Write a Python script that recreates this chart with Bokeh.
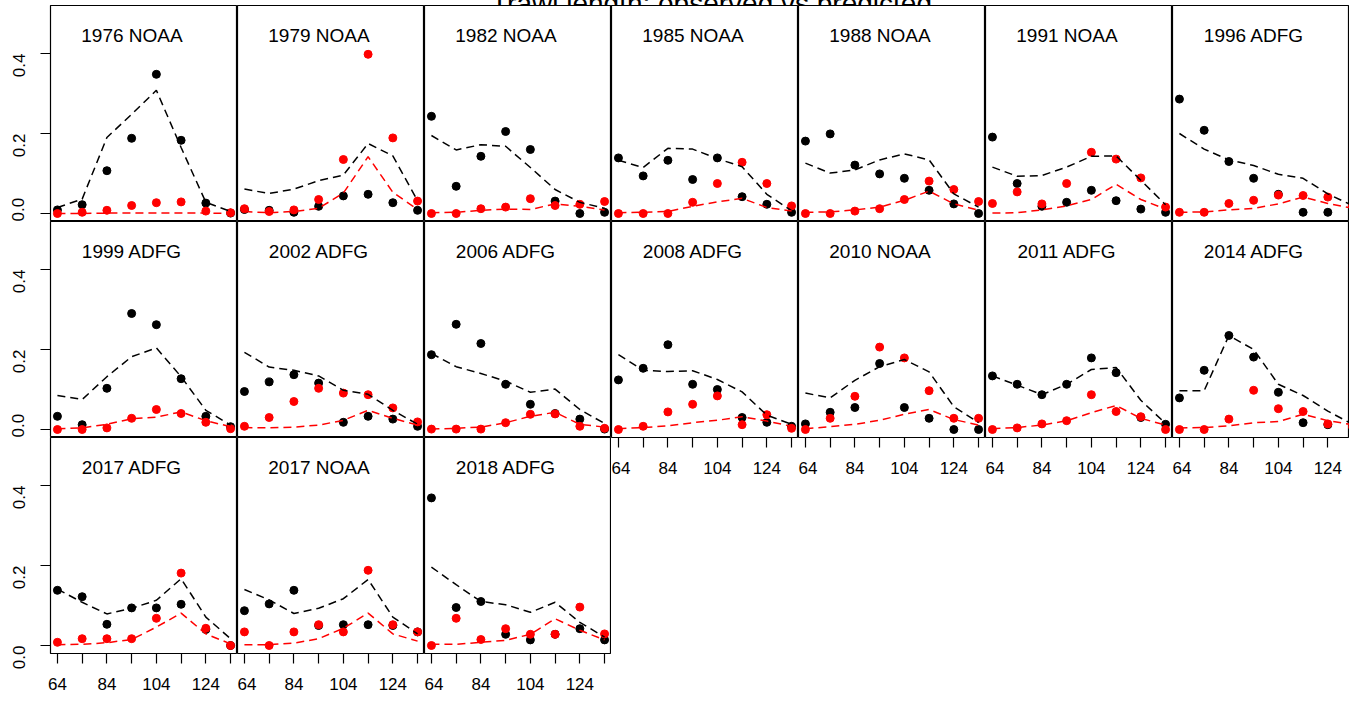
import math
from bokeh.plotting import figure
from bokeh.layouts import row, column
from bokeh.models import Range1d, FixedTicker, LinearAxis, Label, ColumnDataSource
from bokeh.embed import file_html
from bokeh.resources import INLINE

chart_title = "Trawl length: observed vs predicted"
lengths = [64, 74, 84, 94, 104, 114, 124, 134]
panel_labels = ["1976 NOAA", "1979 NOAA", "1982 NOAA", "1985 NOAA", "1988 NOAA", "1991 NOAA", "1996 ADFG",
                "1999 ADFG", "2002 ADFG", "2006 ADFG", "2008 ADFG", "2010 NOAA", "2011 ADFG", "2014 ADFG",
                "2017 ADFG", "2017 NOAA", "2018 ADFG"]
y_ticks = [0.0, 0.2, 0.4]
x_major_ticks = [64, 84, 104, 124]
x_minor_ticks = [74, 94, 114, 134]

obs_black = [
    [0.009, 0.022, 0.107, 0.188, 0.348, 0.183, 0.026, 0.001],
    [0.010, 0.008, 0.003, 0.018, 0.044, 0.048, 0.027, 0.008],
    [0.243, 0.068, 0.143, 0.205, 0.160, 0.031, 0.000, 0.003],
    [0.139, 0.094, 0.133, 0.085, 0.139, 0.042, 0.023, 0.003],
    [0.181, 0.199, 0.121, 0.099, 0.088, 0.058, 0.024, 0.000],
    [0.191, 0.075, 0.018, 0.028, 0.058, 0.032, 0.011, 0.003],
    [0.286, 0.208, 0.130, 0.088, 0.048, 0.003, 0.003, 0.007],
    [0.033, 0.012, 0.103, 0.290, 0.262, 0.127, 0.033, 0.007],
    [0.095, 0.119, 0.137, 0.116, 0.018, 0.033, 0.026, 0.008],
    [0.187, 0.263, 0.215, 0.113, 0.063, 0.040, 0.026, 0.001],
    [0.124, 0.153, 0.212, 0.113, 0.100, 0.030, 0.018, 0.008],
    [0.014, 0.043, 0.055, 0.165, 0.055, 0.028, 0.000, 0.000],
    [0.134, 0.113, 0.087, 0.113, 0.179, 0.142, 0.030, 0.013],
    [0.079, 0.148, 0.235, 0.181, 0.093, 0.017, 0.012, 0.005],
    [0.138, 0.122, 0.053, 0.094, 0.094, 0.103, 0.040, 0.000],
    [0.087, 0.104, 0.138, 0.050, 0.052, 0.052, 0.050, 0.034],
    [0.369, 0.095, 0.110, 0.028, 0.014, 0.028, 0.042, 0.014],
]
obs_red = [
    [0.000, 0.003, 0.008, 0.020, 0.027, 0.029, 0.006, 0.002],
    [0.012, 0.005, 0.009, 0.035, 0.135, 0.398, 0.189, 0.031],
    [0.000, 0.000, 0.012, 0.016, 0.037, 0.020, 0.023, 0.030],
    [0.000, 0.000, 0.000, 0.028, 0.075, 0.128, 0.075, 0.019],
    [0.000, 0.000, 0.006, 0.012, 0.035, 0.081, 0.060, 0.030],
    [0.025, 0.054, 0.024, 0.075, 0.153, 0.136, 0.089, 0.016],
    [0.003, 0.003, 0.025, 0.033, 0.046, 0.045, 0.041, 0.020],
    [0.000, 0.000, 0.004, 0.028, 0.050, 0.040, 0.018, 0.002],
    [0.008, 0.030, 0.070, 0.103, 0.091, 0.087, 0.054, 0.019],
    [0.001, 0.001, 0.001, 0.017, 0.038, 0.039, 0.008, 0.003],
    [0.000, 0.008, 0.044, 0.063, 0.084, 0.012, 0.037, 0.003],
    [0.000, 0.028, 0.083, 0.206, 0.179, 0.097, 0.028, 0.028],
    [0.000, 0.004, 0.014, 0.022, 0.087, 0.045, 0.032, 0.000],
    [0.000, 0.000, 0.026, 0.098, 0.052, 0.045, 0.014, 0.007],
    [0.008, 0.017, 0.017, 0.017, 0.068, 0.181, 0.043, 0.000],
    [0.034, 0.000, 0.034, 0.052, 0.034, 0.188, 0.052, 0.034],
    [0.000, 0.068, 0.015, 0.042, 0.028, 0.028, 0.096, 0.029],
]
pred_black = [
    [0.015, 0.036, 0.190, 0.248, 0.308, 0.165, 0.028, 0.005],
    [0.061, 0.050, 0.061, 0.082, 0.096, 0.175, 0.144, 0.032],
    [0.195, 0.159, 0.172, 0.168, 0.115, 0.060, 0.028, 0.013],
    [0.133, 0.115, 0.163, 0.161, 0.137, 0.117, 0.048, 0.007],
    [0.126, 0.101, 0.109, 0.134, 0.149, 0.134, 0.049, 0.016],
    [0.116, 0.093, 0.095, 0.116, 0.143, 0.144, 0.083, 0.022],
    [0.200, 0.161, 0.134, 0.120, 0.098, 0.088, 0.049, 0.020],
    [0.085, 0.075, 0.132, 0.182, 0.204, 0.132, 0.048, 0.011],
    [0.193, 0.156, 0.148, 0.134, 0.098, 0.088, 0.048, 0.013],
    [0.190, 0.157, 0.140, 0.121, 0.093, 0.101, 0.050, 0.015],
    [0.187, 0.148, 0.145, 0.147, 0.125, 0.094, 0.036, 0.013],
    [0.091, 0.079, 0.123, 0.157, 0.175, 0.144, 0.057, 0.017],
    [0.134, 0.111, 0.087, 0.113, 0.150, 0.155, 0.073, 0.015],
    [0.097, 0.097, 0.235, 0.200, 0.113, 0.085, 0.046, 0.013],
    [0.141, 0.108, 0.079, 0.093, 0.113, 0.167, 0.071, 0.017],
    [0.140, 0.114, 0.080, 0.093, 0.117, 0.165, 0.071, 0.029],
    [0.196, 0.152, 0.110, 0.102, 0.083, 0.108, 0.058, 0.021],
]
pred_red = [
    [0.000, 0.000, 0.001, 0.001, 0.001, 0.001, 0.001, 0.000],
    [0.005, 0.002, 0.005, 0.013, 0.051, 0.142, 0.053, 0.010],
    [0.002, 0.003, 0.008, 0.011, 0.010, 0.024, 0.018, 0.009],
    [0.002, 0.003, 0.005, 0.018, 0.029, 0.038, 0.015, 0.006],
    [0.003, 0.004, 0.009, 0.016, 0.033, 0.056, 0.024, 0.008],
    [0.001, 0.002, 0.009, 0.019, 0.035, 0.073, 0.035, 0.011],
    [0.003, 0.004, 0.009, 0.013, 0.024, 0.041, 0.025, 0.013],
    [0.002, 0.004, 0.013, 0.027, 0.031, 0.044, 0.022, 0.007],
    [0.005, 0.004, 0.006, 0.011, 0.023, 0.048, 0.028, 0.011],
    [0.001, 0.003, 0.006, 0.017, 0.033, 0.043, 0.013, 0.006],
    [0.002, 0.005, 0.009, 0.017, 0.023, 0.032, 0.021, 0.008],
    [0.002, 0.007, 0.013, 0.023, 0.038, 0.050, 0.025, 0.011],
    [0.002, 0.005, 0.011, 0.022, 0.042, 0.060, 0.028, 0.011],
    [0.004, 0.005, 0.009, 0.017, 0.020, 0.038, 0.022, 0.012],
    [0.002, 0.003, 0.007, 0.015, 0.046, 0.081, 0.029, 0.004],
    [0.002, 0.002, 0.006, 0.017, 0.043, 0.081, 0.029, 0.011],
    [0.003, 0.003, 0.008, 0.013, 0.028, 0.067, 0.038, 0.014],
]

# ---- layout / style constants ----
FONT = "Liberation Sans"
NCOL = 7
X0, X1 = 61.2, 136.8
Y0, Y1 = -0.02, 0.52
FRAME_W = 187
LAST_W = 177
FRAME_H = 216
LEFT_B = 50
BOT_B = 46
TITLE_H = 34
TICK_FONT = "17px"


def make_panel(i):
    r, c = divmod(i, NCOL)
    below_exists = (i + NCOL) < len(panel_labels)
    fw = FRAME_W if c < NCOL - 1 else LAST_W
    xend = X1 if c < NCOL - 1 else X0 + fw * (X1 - X0) / FRAME_W
    lb = LEFT_B if c == 0 else 0
    bb = 0 if below_exists else BOT_B
    p = figure(width=fw + lb, height=FRAME_H + bb,
               x_range=Range1d(X0, xend), y_range=Range1d(Y0, Y1),
               x_axis_location=None, y_axis_location=None,
               min_border_left=lb, min_border_right=0, min_border_top=0, min_border_bottom=bb,
               output_backend="svg", toolbar_location=None,
               background_fill_color="white", border_fill_color="white")
    p.grid.visible = False
    p.outline_line_color = "black"
    p.outline_line_width = 1.2

    if c == 0:
        ax = LinearAxis(ticker=FixedTicker(ticks=y_ticks),
                        major_label_overrides={t: f"{t:.1f}" for t in y_ticks})
        ax.axis_line_color = None
        ax.major_tick_in = 0
        ax.major_tick_out = 10
        ax.major_tick_line_width = 1.2
        ax.major_tick_line_color = "black"
        ax.minor_tick_line_color = None
        ax.major_label_orientation = math.pi / 2
        ax.major_label_text_font = FONT
        ax.major_label_text_font_size = TICK_FONT
        ax.major_label_text_color = "black"
        ax.major_label_standoff = 22
        p.add_layout(ax, "left")
    if not below_exists:
        ax = LinearAxis(ticker=FixedTicker(ticks=x_major_ticks, minor_ticks=x_minor_ticks))
        ax.axis_line_color = None
        ax.major_tick_in = 0
        ax.major_tick_out = 10
        ax.minor_tick_in = 0
        ax.minor_tick_out = 10
        ax.major_tick_line_width = 1.2
        ax.minor_tick_line_width = 1.2
        ax.major_tick_line_color = "black"
        ax.minor_tick_line_color = "black"
        ax.major_label_text_font = FONT
        ax.major_label_text_font_size = TICK_FONT
        ax.major_label_text_color = "black"
        ax.major_label_standoff = 14
        p.add_layout(ax, "below")

    src = ColumnDataSource(dict(x=lengths, ob=obs_black[i], orr=obs_red[i],
                                pb=pred_black[i], pr=pred_red[i]))
    p.scatter("x", "ob", source=src, size=8, color="black")
    p.scatter("x", "orr", source=src, size=8, color="red")
    p.line("x", "pb", source=src, color="black", line_width=1.5, line_dash="8 5")
    p.line("x", "pr", source=src, color="red", line_width=1.5, line_dash="8 5")

    p.add_layout(Label(x=81.5, y=FRAME_H - 29.5, x_units="screen", y_units="screen",
                       text=panel_labels[i], text_align="center", text_baseline="middle",
                       text_font=FONT, text_font_size="19px", text_color="black"))
    return p


panels = [make_panel(i) for i in range(len(panel_labels))]
cols = []
for c in range(NCOL):
    cols.append(column(*[panels[i] for i in range(c, len(panels), NCOL)], spacing=0))
grid = row(*cols, spacing=0)

total_w = LEFT_B + FRAME_W * (NCOL - 1) + LAST_W
tp = figure(width=total_w, height=TITLE_H, x_range=Range1d(0, 1), y_range=Range1d(0, 1),
            x_axis_location=None, y_axis_location=None,
            min_border_left=0, min_border_right=0, min_border_top=0, min_border_bottom=0,
            output_backend="svg", toolbar_location=None, outline_line_color=None)
tp.grid.visible = False
tp.add_layout(Label(x=711, y=2, x_units="screen", y_units="screen", text=chart_title,
                    text_align="center", text_baseline="alphabetic",
                    text_font=FONT, text_font_size="28px", text_color="black"))

# the reference shows the chart title cropped at the top edge
root = column(tp, grid, spacing=0, margin=(-(TITLE_H - 5), 0, 0, 0))

open("out.html", "w").write(file_html(root, INLINE))
